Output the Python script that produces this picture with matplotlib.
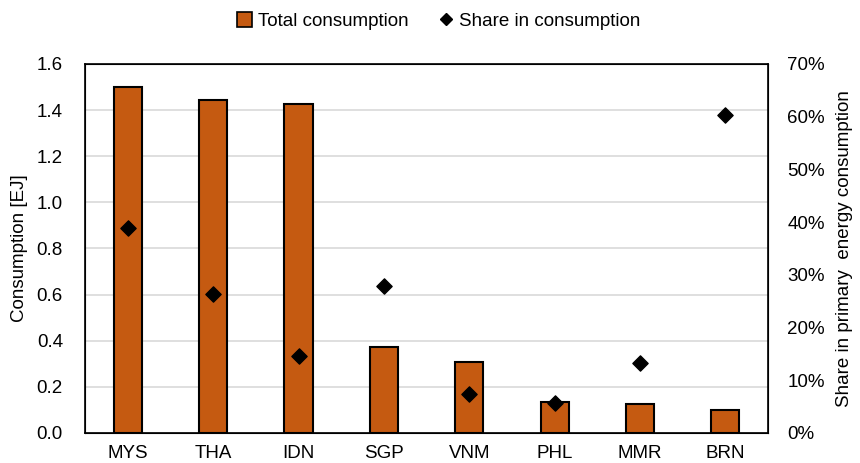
import matplotlib

matplotlib.use("Agg")
import matplotlib.pyplot as plt
from matplotlib.lines import Line2D
from matplotlib.patches import Patch
from matplotlib.ticker import PercentFormatter

countries = ["MYS", "THA", "IDN", "SGP", "VNM", "PHL", "MMR", "BRN"]
consumption = [1.50, 1.443, 1.426, 0.374, 0.309, 0.135, 0.126, 0.10]  # EJ
share = [38.9, 26.3, 14.5, 27.8, 7.4, 5.7, 13.3, 60.3]  # %

plt.rcParams["font.family"] = ["Liberation Sans", "DejaVu Sans"]
plt.rcParams["font.size"] = 13.5

fig = plt.figure(figsize=(8.6, 4.63), dpi=100)
ax = fig.add_axes([0.099, 0.065, 0.794, 0.797])
x = range(len(countries))

ax.bar(x, consumption, width=0.33, color="#C55A11", edgecolor="black",
       linewidth=1.5, zorder=2)
ax.set_ylim(0, 1.6)
ax.set_yticks([i * 0.2 for i in range(9)])
ax.set_yticklabels([f"{i * 0.2:.1f}" for i in range(9)])
ax.set_xlim(-0.5, len(countries) - 0.5)
ax.set_xticks(list(x))
ax.set_xticklabels(countries)
ax.set_ylabel("Consumption [EJ]", labelpad=6)
ax.grid(axis="y", color="#d9d9d9", linewidth=1.2, zorder=0)
ax.set_axisbelow(True)
ax.tick_params(axis="y", length=0, pad=16)
ax.tick_params(axis="x", length=0, pad=9)
for s in ax.spines.values():
    s.set_linewidth(1.2)

ax2 = ax.twinx()
ax2.scatter(x, share, marker="D", s=60, color="black", zorder=3)
ax2.set_ylim(0, 70)
ax2.set_yticks(range(0, 71, 10))
ax2.yaxis.set_major_formatter(PercentFormatter(decimals=0))
ax2.set_ylabel("Share in primary  energy consumption", labelpad=8)
ax2.tick_params(length=0, pad=14)

handles = [
    Patch(facecolor="#C55A11", edgecolor="black", linewidth=1.2,
          label="Total consumption"),
    Line2D([], [], marker="D", color="black", linestyle="none",
           markersize=6.5, label="Share in consumption"),
]
fig.legend(handles=handles, loc="upper center", ncol=2, frameon=False,
           bbox_to_anchor=(0.51, 1.01), handlelength=0.8, handleheight=0.8,
           handletextpad=0.3, columnspacing=1.6)

fig.savefig("out.png", dpi=100)
